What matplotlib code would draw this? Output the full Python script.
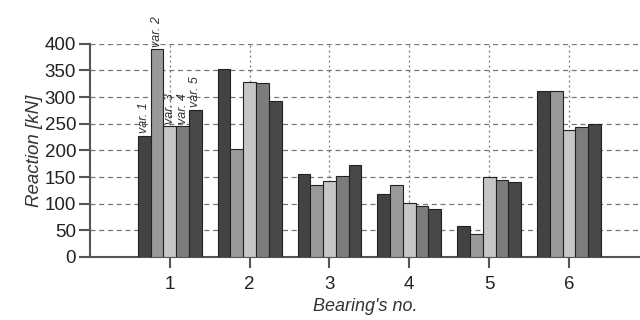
import matplotlib
matplotlib.use("Agg")
import matplotlib.pyplot as plt
import numpy as np

bearings = ["1", "2", "3", "4", "5", "6"]
var_names = ["var. 1", "var. 2", "var. 3", "var. 4", "var. 5"]
var1 = [227, 353, 156, 118, 59, 312]
var2 = [390, 203, 135, 135, 44, 311]
var3 = [245, 329, 143, 101, 150, 238]
var4 = [245, 327, 152, 96, 145, 244]
var5 = [276, 292, 173, 90, 141, 250]
series = [var1, var2, var3, var4, var5]
colors = ["#424242", "#999999", "#c6c6c6", "#7c7c7c", "#484848"]
yticks = [0, 50, 100, 150, 200, 250, 300, 350, 400]

plt.rcParams['font.family'] = ['Liberation Sans', 'DejaVu Sans']

fig = plt.figure(figsize=(6.4, 3.2), dpi=100)
ax = fig.add_axes([0.1406, 0.197, 0.8594, 0.666])

x = np.arange(1, len(bearings) + 1)
w = 0.16
for i, (vals, c) in enumerate(zip(series, colors)):
    pos = x + (i - 2) * w
    ax.bar(pos, vals, width=w, color=c, edgecolor="#222222", linewidth=0.8, zorder=3)
    ax.text(pos[0], vals[0] + 5, var_names[i], rotation=90, ha="center", va="bottom",
            fontsize=9, style="italic", color="#333333", clip_on=False, zorder=4)

ax.set_xlim(0, 6.89)
ax.set_ylim(0, 400)
ax.set_xticks(x)
ax.set_xticklabels(bearings)
ax.set_yticks(yticks)

ax.yaxis.grid(True, linestyle=(0, (4, 3)), color="#777777", linewidth=0.9, zorder=0)
ax.xaxis.grid(True, linestyle=(0, (1.5, 2.5)), color="#777777", linewidth=0.9, zorder=0)
ax.set_axisbelow(True)

for s in ["top", "right"]:
    ax.spines[s].set_visible(False)
for s in ["left", "bottom"]:
    ax.spines[s].set_color("#555555")
    ax.spines[s].set_linewidth(1.5)

ax.tick_params(axis="both", direction="out", length=8, width=1.5, color="#555555",
               labelsize=13.5, labelcolor="#222222")
ax.tick_params(axis="x", pad=6)
ax.tick_params(axis="y", pad=2)

ax.set_xlabel("Bearing's no.", fontsize=13, style="italic", color="#333333", labelpad=3)
ax.set_ylabel("Reaction [kN]", fontsize=13.5, style="italic", color="#333333", labelpad=1)

fig.savefig("out.png", dpi=100)
